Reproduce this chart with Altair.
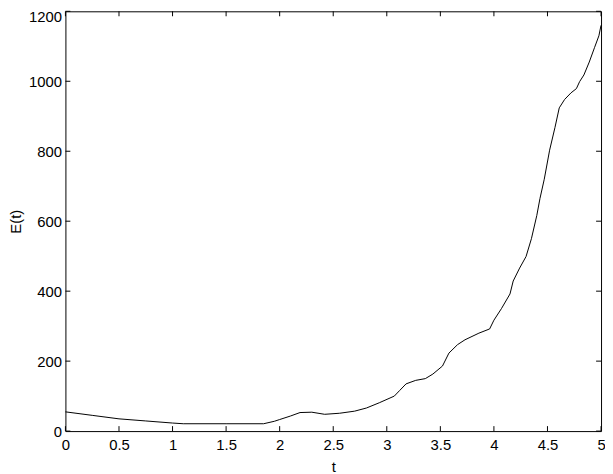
import altair as alt
import pandas as pd

t_vals = [0.0, 0.25, 0.5, 0.75, 1.0, 1.1, 1.5, 1.85, 1.95, 2.0, 2.1, 2.19, 2.3,
          2.42, 2.56, 2.70, 2.81, 2.93, 3.07, 3.12, 3.18, 3.27, 3.36, 3.43, 3.52,
          3.58, 3.66, 3.73, 3.86, 3.96, 4.0, 4.07, 4.15, 4.18, 4.24, 4.30, 4.35,
          4.40, 4.43, 4.47, 4.52, 4.57, 4.61, 4.66, 4.72, 4.77, 4.80, 4.84, 4.89,
          4.94, 4.98, 5.0]
E_vals = [55, 45, 35, 29, 23, 21, 21, 21, 28, 33, 43, 53, 54,
          48, 51, 57, 66, 81, 100, 116, 135, 145, 150, 163, 186,
          223, 247, 261, 280, 292, 317, 350, 392, 429, 466, 499, 550,
          616, 665, 720, 803, 868, 924, 948, 967, 979, 999, 1018, 1055,
          1097, 1130, 1160]

x_ticks = [0, 0.5, 1, 1.5, 2, 2.5, 3, 3.5, 4, 4.5, 5]
y_ticks = [0, 200, 400, 600, 800, 1000, 1200]

df = pd.DataFrame({"t": t_vals, "E": E_vals})
xt = pd.DataFrame({"t": x_ticks})
yt = pd.DataFrame({"E": y_ticks})

FONT = "Liberation Sans"
W, H = 541, 424
TICK = 5

xscale = alt.Scale(domain=[0, 5], nice=False, zero=False)
yscale = alt.Scale(domain=[0, 1200], nice=False)

axis_style = dict(grid=False, domain=False, ticks=False,
                  labelFont=FONT, labelFontSize=15, labelColor="black",
                  titleFont=FONT, titleFontSize=15, titleColor="black",
                  titleFontWeight="normal", labelFlush=False, labelOverlap=False)

main = alt.Chart(df).mark_line(color="black", strokeWidth=1).encode(
    x=alt.X("t:Q", scale=xscale,
            axis=alt.Axis(orient="bottom", values=x_ticks, title="t", format="~g",
                          labelPadding=7, titleY=29, **axis_style)),
    y=alt.Y("E:Q", scale=yscale,
            axis=alt.Axis(orient="left", values=y_ticks, title="E(t)", format="d",
                          labelPadding=4, titleX=-42, titleY=H / 2,
                          labelOffset={"condition": {"test": "datum.value == 1200", "value": 5},
                                       "value": 0},
                          **axis_style)),
)

tick_style = dict(color="black", strokeWidth=1)

bottom_ticks = alt.Chart(xt).mark_rule(**tick_style).encode(
    x=alt.X("t:Q", scale=xscale), y=alt.value(H), y2=alt.value(H - TICK))
top_ticks = alt.Chart(xt).mark_rule(**tick_style).encode(
    x=alt.X("t:Q", scale=xscale), y=alt.value(0), y2=alt.value(TICK))
left_ticks = alt.Chart(yt).mark_rule(**tick_style).encode(
    y=alt.Y("E:Q", scale=yscale), x=alt.value(0), x2=alt.value(TICK))
right_ticks = alt.Chart(yt).mark_rule(**tick_style).encode(
    y=alt.Y("E:Q", scale=yscale), x=alt.value(W - TICK), x2=alt.value(W))

chart = alt.layer(main, bottom_ticks, top_ticks, left_ticks, right_ticks).properties(
    width=W, height=H,
    autosize=alt.AutoSizeParams(type="none"),
    padding={"left": 58, "top": 1, "right": 4, "bottom": 41},
    background="white",
).configure_view(stroke="black", strokeWidth=1)

chart.save("out.html", embed_options={"renderer": "svg", "actions": False})
